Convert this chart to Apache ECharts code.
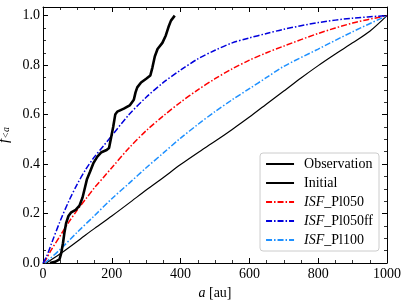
<!DOCTYPE html>
<html><head><meta charset="utf-8">
<script src="https://cdn.jsdelivr.net/npm/echarts@6/dist/echarts.min.js"></script>
<style>html,body{margin:0;padding:0;background:#fff}#c{width:407px;height:301px}</style>
</head><body><div id="c"></div>
<script>
const seriesNames = ['Observation','Initial','ISF_Pl050','ISF_Pl050ff','ISF_Pl100'];
const xTicks = [0,200,400,600,800,1000];
const yTicks = [0.0,0.2,0.4,0.6,0.8,1.0];
const observation = [[20,0],[35,0.005],[48,0.015],[53,0.04],[58,0.08],[62,0.12],[67,0.16],[74,0.19],[82,0.205],[95,0.215],[106,0.232],[115,0.265],[122,0.305],[128,0.34],[137,0.37],[147,0.405],[158,0.43],[170,0.448],[185,0.457],[192,0.465],[197,0.5],[204,0.55],[210,0.6],[216,0.612],[235,0.624],[252,0.637],[264,0.66],[269,0.69],[274,0.71],[285,0.73],[300,0.745],[312,0.758],[318,0.79],[325,0.835],[333,0.865],[347,0.89],[357,0.92],[365,0.955],[372,0.98],[383,1.0]];
const initial = [[10,0],[50,0.037],[100,0.088],[150,0.14],[200,0.19],[250,0.242],[300,0.295],[350,0.346],[400,0.398],[450,0.446],[500,0.492],[550,0.54],[600,0.59],[650,0.643],[700,0.695],[750,0.748],[800,0.798],[850,0.845],[900,0.89],[950,0.937],[1000,1.0]];
const pl050 = [[3,0],[10,0.018],[25,0.055],[50,0.11],[75,0.165],[100,0.215],[125,0.26],[150,0.305],[175,0.345],[200,0.385],[250,0.465],[300,0.535],[350,0.595],[400,0.65],[450,0.7],[500,0.745],[550,0.785],[600,0.82],[650,0.85],[700,0.877],[800,0.928],[900,0.97],[1000,1.0]];
const pl050ff = [[0,0],[10,0.025],[25,0.08],[50,0.17],[75,0.25],[100,0.32],[125,0.38],[150,0.43],[175,0.472],[200,0.515],[250,0.6],[300,0.67],[350,0.73],[400,0.78],[450,0.825],[500,0.86],[550,0.89],[600,0.91],[650,0.928],[700,0.945],[800,0.972],[900,0.99],[1000,1.0]];
const pl100 = [[5,0],[10,0.005],[50,0.055],[100,0.125],[150,0.192],[200,0.26],[250,0.322],[300,0.385],[350,0.445],[400,0.505],[450,0.56],[500,0.612],[550,0.66],[600,0.705],[650,0.75],[700,0.795],[800,0.865],[900,0.935],[1000,1.0]];

const serif = '"Liberation Serif", "DejaVu Serif", serif';
const chart = echarts.init(document.getElementById('c'), null, {renderer:'canvas'});
const dashdot = [6,2,1.5,2];
function axisCommon(isX, show){
  return {
    type:'value', min:0, max: isX?1000:1.035, interval: isX?200:0.2,
    axisLine:{show:true,onZero:false,lineStyle:{color:'#000',width:1}},
    axisTick:{show:true,inside:true,length:5,lineStyle:{color:'#000',width:1}},
    minorTick:{show:true,splitNumber:4,length:3,lineStyle:{color:'#000',width:0.8}},
    splitLine:{show:false},
    axisLabel:{show:show,color:'#000',fontFamily:serif,fontSize:14,margin:isX?4:3,
      formatter: isX? (v=>String(v)) : (v=> (v>1.01?'':v.toFixed(1))),
      showMaxLabel: isX},
  };
}
const xAxes = [
  Object.assign(axisCommon(true,true),{position:'bottom',name:'{i|a} [au]',nameLocation:'middle',nameGap:17,
    nameTextStyle:{fontFamily:serif,fontSize:14,color:'#000',rich:{i:{fontFamily:serif,fontStyle:'italic',fontSize:14}}}}),
  Object.assign(axisCommon(true,false),{position:'top'})
];
const yAxes = [
  Object.assign(axisCommon(false,true),{position:'left',name:'{f|f}{s|<a}',nameLocation:'middle',nameGap:25,
    nameTextStyle:{color:'#000',rich:{f:{fontFamily:serif,fontStyle:'italic',fontSize:15},s:{fontFamily:serif,fontStyle:'italic',fontSize:10,padding:[6,0,0,0]}}}}),
  Object.assign(axisCommon(false,false),{position:'right'})
];
function ser(name,data,color,width,type,z){
  return {name, type:'line', data, xAxisIndex:0, yAxisIndex:0, symbol:'none', smooth: name==='Observation'?false:0.3,
    lineStyle:{color,width,type}, itemStyle:{color}, z, animation:false};
}
chart.setOption({
  animation:false,
  grid:{left:43,right:20,top:7,bottom:38,outerBoundsMode:'none',containLabel:false},
  xAxis:xAxes, yAxis:yAxes,
  legend:{
    data:seriesNames, orient:'vertical', right:28, top:153, itemWidth:28, itemHeight:14, itemGap:5,
    padding:[4,6,4,5], backgroundColor:'rgba(255,255,255,0.85)', borderColor:'#cccccc', borderWidth:1, borderRadius:3,
    itemStyle:{opacity:0, borderWidth:0},
    textStyle:{fontFamily:serif,fontSize:14,color:'#000',padding:[0,0,0,5],
      rich:{s:{fontFamily:serif,fontStyle:'italic',fontSize:14,color:'#000'}}},
    formatter: n => n.startsWith('ISF_') ? '{s|ISF}_'+n.slice(4) : n
  },
  series:[
    ser(seriesNames[0],observation,'#000',2.6,'solid',10),
    ser(seriesNames[1],initial,'#000',1.2,'solid',5),
    ser(seriesNames[2],pl050,'#ff0000',1.5,dashdot,6),
    ser(seriesNames[3],pl050ff,'#0000dd',1.5,dashdot,7),
    ser(seriesNames[4],pl100,'#1e90ff',1.5,dashdot,6)
  ]
});
</script></body></html>
